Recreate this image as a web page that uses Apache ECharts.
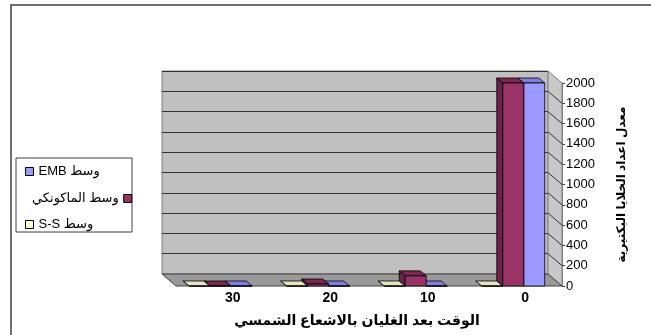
<!DOCTYPE html>
<html>
<head>
<meta charset="utf-8">
<script src="https://cdn.jsdelivr.net/npm/echarts@6/dist/echarts.min.js"></script>
<style>
html,body{margin:0;padding:0;background:#fff;}
#chart{width:651px;height:335px;}
</style>
</head>
<body>
<div id="chart"></div>
<script>
// ---- data ----
const categories = ['0', '10', '20', '30'];
const embValues = [2000, 0, 0, 0];
const macconkeyValues = [2000, 100, 20, 0];
const ssValues = [0, 0, 0, 0];
const seriesNames = ['وسط EMB', 'وسط الماكونكي', 'وسط S-S'];
const yMin = 0, yMax = 2000, yStep = 200;
const xAxisTitle = 'الوقت بعد الغليان بالاشعاع الشمسي';
const yAxisTitle = 'معدل اعداد الخلايا البكتيرية';

const FONT = '"Liberation Sans", "DejaVu Sans", Arial, sans-serif';
const DX = -6, DY = -5;

function makeRender(slot, front, top, side) {
  return function (params, api) {
    const ci = api.value(0);
    const v = api.value(1);
    const p0 = api.coord([ci, 0]);
    const p1 = api.coord([ci, v]);
    const band = api.size([1, 0])[0];
    const w = band * 0.215;
    const x0 = p0[0] - 1.5 * w + slot * w;
    const yT = p1[1], yB = p0[1];
    const st = { stroke: '#000', lineWidth: 0.8, lineJoin: 'round' };
    return {
      type: 'group',
      children: [
        { type: 'polygon', shape: { points: [[x0, yT], [x0 + DX, yT + DY], [x0 + DX, yB + DY], [x0, yB]] },
          style: Object.assign({ fill: side }, st) },
        { type: 'polygon', shape: { points: [[x0, yT], [x0 + w, yT], [x0 + w + DX, yT + DY], [x0 + DX, yT + DY]] },
          style: Object.assign({ fill: top }, st) },
        { type: 'rect', shape: { x: x0, y: yT, width: w, height: yB - yT },
          style: Object.assign({ fill: front }, st) }
      ]
    };
  };
}

function toData(vals) { return vals.map((v, i) => [i, v]); }

const chart = echarts.init(document.getElementById('chart'), null, { renderer: 'canvas' });

const legendCommon = {
  orient: 'vertical', icon: 'rect', itemWidth: 8, itemHeight: 8, itemGap: 5,
  textStyle: { fontSize: 13, color: '#000', fontFamily: FONT },
  itemStyle: { borderColor: '#000', borderWidth: 1 },
  formatter: n => '\u202B' + n + '\u202C',
  selectedMode: false
};

const option = {
  animation: false,
  backgroundColor: '#fff',
  grid: [
    { left: 162, right: 103, top: 71, bottom: 61, show: true, backgroundColor: '#c0c0c0', borderColor: '#808080', borderWidth: 1 },
    { left: 172, right: 89, top: 83, bottom: 49, show: false }
  ],
  legend: [
    Object.assign({}, legendCommon, { data: [seriesNames[0]], left: 20, top: 160, align: 'left' }),
    Object.assign({}, legendCommon, { data: [seriesNames[1]], left: 27, top: 187, align: 'right' }),
    Object.assign({}, legendCommon, { data: [seriesNames[2]], left: 20, top: 213, align: 'left' })
  ],
  xAxis: [
    { gridIndex: 0, type: 'category', data: categories, inverse: true, show: false },
    { gridIndex: 1, type: 'category', data: categories, inverse: true,
      axisLine: { show: false }, axisTick: { show: false },
      axisLabel: { fontSize: 14, fontWeight: 'bold', color: '#000', fontFamily: FONT, margin: 5, padding: [0, 0, 0, 24] },
      name: xAxisTitle, nameLocation: 'middle', nameGap: 28,
      nameTextStyle: { fontSize: 14, fontWeight: 'bold', color: '#000', fontFamily: FONT, padding: [0, 20, 0, 0] } }
  ],
  yAxis: [
    { gridIndex: 0, type: 'value', min: yMin, max: yMax, interval: yStep,
      axisLabel: { show: false }, axisLine: { show: false }, axisTick: { show: false },
      splitLine: { show: true, lineStyle: { color: '#333', width: 1 } } },
    { gridIndex: 1, type: 'value', position: 'right', min: yMin, max: yMax, interval: yStep,
      axisLine: { show: true, lineStyle: { color: '#808080', width: 1 } },
      axisTick: { show: true, length: 3, lineStyle: { color: '#404040' } },
      axisLabel: { fontSize: 13, color: '#000', fontFamily: FONT, margin: 4, formatter: v => String(v) },
      splitLine: { show: false },
      name: yAxisTitle, nameLocation: 'middle', nameRotate: 90, nameGap: 54,
      nameTextStyle: { fontSize: 12, fontWeight: 'bold', color: '#000', fontFamily: FONT } }
  ],
  series: [
    { name: seriesNames[0], type: 'custom', xAxisIndex: 1, yAxisIndex: 1, z: 3,
      itemStyle: { color: '#9999ff' },
      renderItem: makeRender(2, '#9999ff', '#8080e0', '#6666cc'),
      encode: { x: 0, y: 1 }, data: toData(embValues) },
    { name: seriesNames[2], type: 'custom', xAxisIndex: 1, yAxisIndex: 1, z: 4,
      itemStyle: { color: '#ffffcc' },
      renderItem: makeRender(0, '#ffffcc', '#e6e6bc', '#cccc99'),
      encode: { x: 0, y: 1 }, data: toData(ssValues) },
    { name: seriesNames[1], type: 'custom', xAxisIndex: 1, yAxisIndex: 1, z: 5,
      itemStyle: { color: '#993366' },
      renderItem: makeRender(1, '#993366', '#7a2952', '#6b2347'),
      encode: { x: 0, y: 1 }, data: toData(macconkeyValues) }
  ]
};

chart.setOption(option);

// decorative 3D walls (floor, side wall) positioned from the axes
const backL = 162, backR = 548;
const yb0 = chart.convertToPixel({ yAxisIndex: 0 }, yMin);
const ybTop = chart.convertToPixel({ yAxisIndex: 0 }, yMax);
const yf0 = chart.convertToPixel({ yAxisIndex: 1 }, yMin);
const yfTop = chart.convertToPixel({ yAxisIndex: 1 }, yMax);
const frontR = 562, frontL = 176;
const gfx = [
  { type: 'rect', shape: { x: 11, y: 5, width: 800, height: 500 }, style: { fill: 'none', stroke: '#404040', lineWidth: 1.5 }, z: 0, silent: true },
  { type: 'rect', shape: { x: 16, y: 158, width: 116, height: 74 }, style: { fill: '#fff', stroke: '#404040', lineWidth: 1 }, z: 0, silent: true },
  { type: 'polygon', shape: { points: [[backR, ybTop], [frontR, yfTop], [frontR, yf0], [backR, yb0]] },
    style: { fill: '#c8c8c8', stroke: '#808080', lineWidth: 1 }, z: 1, silent: true },
  { type: 'polygon', shape: { points: [[backL, yb0], [backR, yb0], [frontR, yf0], [frontL, yf0]] },
    style: { fill: '#999999', stroke: '#404040', lineWidth: 1 }, z: 1, silent: true }
];
for (let v = yMin + yStep; v < yMax; v += yStep) {
  const a = chart.convertToPixel({ yAxisIndex: 0 }, v);
  const b = chart.convertToPixel({ yAxisIndex: 1 }, v);
  gfx.push({ type: 'line', shape: { x1: backR, y1: a, x2: frontR, y2: b }, style: { stroke: '#333', lineWidth: 1 }, z: 1, silent: true });
}
chart.setOption({ graphic: { elements: gfx } });
</script>
</body>
</html>
